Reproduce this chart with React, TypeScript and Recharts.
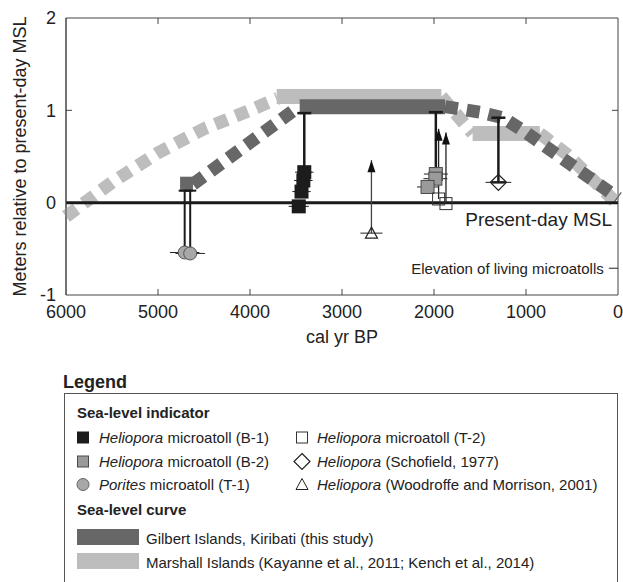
import { ComposedChart, Line, Scatter, XAxis, YAxis, ReferenceLine, ErrorBar } from 'recharts'

// axis ticks
const yearTicks = [0, 1000, 2000, 3000, 4000, 5000, 6000]
const levelTicks = [-1, 0, 1, 2]

// Marshall Islands curve (Kayanne et al., 2011; Kench et al., 2014)
const marshallRise = [
  { x: 6000, y: -0.15 },
  { x: 5500, y: 0.22 },
  { x: 5000, y: 0.54 },
  { x: 4500, y: 0.8 },
  { x: 4000, y: 1.0 },
  { x: 3700, y: 1.13 },
]
const marshallHigh = [
  { x: 3710, y: 1.15 },
  { x: 1920, y: 1.15 },
]
const marshallFall1 = [
  { x: 1920, y: 1.15 },
  { x: 1580, y: 0.75 },
]
const marshallMid = [
  { x: 1580, y: 0.75 },
  { x: 850, y: 0.75 },
]
const marshallFall2 = [
  { x: 850, y: 0.75 },
  { x: 550, y: 0.52 },
  { x: 0, y: -0.02 },
]

// Gilbert Islands curve (this study)
const gilbertStart = [
  { x: 4760, y: 0.2 },
  { x: 4620, y: 0.2 },
]
const gilbertRise = [
  { x: 4620, y: 0.2 },
  { x: 3470, y: 1.04 },
]
const gilbertHigh = [
  { x: 3460, y: 1.04 },
  { x: 1880, y: 1.04 },
]
const gilbertFall = [
  { x: 1880, y: 1.04 },
  { x: 1500, y: 0.98 },
  { x: 1250, y: 0.92 },
  { x: 1000, y: 0.76 },
  { x: 550, y: 0.44 },
  { x: 0, y: 0.05 },
]

// sea-level indicators
const heliB1 = [
  { x: 3410, y: 0.33, xErr: 100, yErr: [0, 0.64] },
  { x: 3420, y: 0.24, xErr: 100 },
  { x: 3440, y: 0.12, xErr: 100 },
  { x: 3470, y: -0.04, xErr: 110 },
]
const heliB2 = [
  { x: 1980, y: 0.31, xErr: 130, yErr: [0, 0.67] },
  { x: 1985, y: 0.26, xErr: 130 },
  { x: 2070, y: 0.17, xErr: 115 },
]
const poritesT1 = [
  { x: 4710, y: -0.54, xErr: 160, yErr: [0, 0.67] },
  { x: 4650, y: -0.55, xErr: 160, yErr: [0, 0.68] },
]
const heliT2 = [
  { x: 1950, y: 0.04, yErr: [0, 0.76] },
  { x: 1870, y: -0.01, yErr: [0, 0.77] },
]
const schofield = [{ x: 1300, y: 0.22, xErr: 140, yErr: [0, 0.7] }]
const woodroffe = [{ x: 2680, y: -0.33, xErr: 120, yErr: [0, 0.79] }]
const arrowTips = [...heliT2, ...woodroffe].map((d) => ({ x: d.x, y: d.y + d.yErr[1] }))

const livingMicroatolls = -0.71

const DARK = '#676767'
const LIGHT = '#bdbdbd'
const AXIS = '#444'
const FONT = '"Liberation Sans", Arial, sans-serif'
const X_MIN = 0
const X_MAX = 6000
const Y_MIN = -1
const Y_MAX = 2
// inward tick length (about 6px) in axis units
const TICK_X = 65
const TICK_Y = 0.065

// plot frame and inward ticks, built from the axis bounds and tick lists
const frame = [
  { x: X_MAX, y: Y_MIN },
  { x: X_MAX, y: Y_MAX },
  { x: X_MIN, y: Y_MAX },
  { x: X_MIN, y: Y_MIN },
]
const innerYears = yearTicks.filter((t) => t > X_MIN && t < X_MAX)
const innerLevels = levelTicks.filter((t) => t > Y_MIN && t < Y_MAX)
const tickSegments = [
  ...innerYears.map((t) => [
    { x: t, y: Y_MIN },
    { x: t, y: Y_MIN + TICK_Y },
  ]),
  ...innerYears.map((t) => [
    { x: t, y: Y_MAX },
    { x: t, y: Y_MAX - TICK_Y },
  ]),
  ...innerLevels.map((t) => [
    { x: X_MAX, y: t },
    { x: X_MAX - TICK_X, y: t },
  ]),
  ...innerLevels.map((t) => [
    { x: X_MIN, y: t },
    { x: X_MIN + TICK_X, y: t },
  ]),
]

const BlackSquare = (p: any) => <rect x={p.cx - 7} y={p.cy - 7} width={14} height={14} fill="#1c1c1c" />
const GraySquare = (p: any) => (
  <rect x={p.cx - 6.5} y={p.cy - 6.5} width={13} height={13} fill="#9a9a9a" stroke="#4a4a4a" strokeWidth={1} />
)
const OpenSquare = (p: any) => (
  <rect x={p.cx - 6} y={p.cy - 6} width={12} height={12} fill="none" stroke="#333" strokeWidth={1} />
)
const GrayCircle = (p: any) => <circle cx={p.cx} cy={p.cy} r={6.5} fill="#a8a8a8" stroke="#555" strokeWidth={1} />
const Diamond = (p: any) => (
  <polygon
    points={`${p.cx},${p.cy - 8} ${p.cx + 8},${p.cy} ${p.cx},${p.cy + 8} ${p.cx - 8},${p.cy}`}
    fill="none"
    stroke="#222"
    strokeWidth={1.3}
  />
)
const Triangle = (p: any) => (
  <polygon
    points={`${p.cx},${p.cy - 6} ${p.cx + 6},${p.cy + 5} ${p.cx - 6},${p.cy + 5}`}
    fill="none"
    stroke="#222"
    strokeWidth={1.2}
  />
)
const ArrowHead = (p: any) => (
  <polygon points={`${p.cx},${p.cy} ${p.cx + 4},${p.cy + 12} ${p.cx - 4},${p.cy + 12}`} fill="#111" />
)

const MslLabel = (props: any) => {
  const vb = props.viewBox
  return (
    <text x={vb.x + vb.width - 6} y={vb.y + 23} textAnchor="end" fontSize={19} fill="#222" fontFamily={FONT}>
      Present-day MSL
    </text>
  )
}

const YLabel = (props: any) => {
  const vb = props.viewBox
  const x = vb.x + 20
  const y = 156.5
  return (
    <text x={x} y={y} transform={`rotate(-90, ${x}, ${y})`} textAnchor="middle" fontSize={18} fill="#222" fontFamily={FONT}>
      Meters relative to present-day MSL
    </text>
  )
}

const indicatorItems = [
  { sym: 'b1', italic: 'Heliopora', rest: ' microatoll (B-1)' },
  { sym: 'b2', italic: 'Heliopora', rest: ' microatoll (B-2)' },
  { sym: 't1', italic: 'Porites', rest: ' microatoll (T-1)' },
  { sym: 't2', italic: 'Heliopora', rest: ' microatoll (T-2)' },
  { sym: 'sch', italic: 'Heliopora', rest: ' (Schofield, 1977)' },
  { sym: 'wm', italic: 'Heliopora', rest: ' (Woodroffe and Morrison, 2001)' },
]
const curveItems = [
  { color: DARK, label: 'Gilbert Islands, Kiribati (this study)' },
  { color: LIGHT, label: 'Marshall Islands (Kayanne et al., 2011; Kench et al., 2014)' },
]

function LegendIcon({ sym, cx, cy }: { sym: string; cx: number; cy: number }) {
  if (sym === 'b1') return <rect x={cx - 6} y={cy - 6} width={12} height={12} fill="#1c1c1c" />
  if (sym === 'b2') return <rect x={cx - 5.5} y={cy - 5.5} width={11} height={11} fill="#9a9a9a" stroke="#4a4a4a" />
  if (sym === 't1') return <circle cx={cx} cy={cy} r={6} fill="#a8a8a8" stroke="#666" />
  if (sym === 't2') return <rect x={cx - 5.5} y={cy - 5.5} width={11} height={11} fill="none" stroke="#333" />
  if (sym === 'sch')
    return (
      <polygon points={`${cx},${cy - 8} ${cx + 8},${cy} ${cx},${cy + 8} ${cx - 8},${cy}`} fill="none" stroke="#222" strokeWidth={1.2} />
    )
  return <polygon points={`${cx},${cy - 6} ${cx + 6},${cy + 5} ${cx - 6},${cy + 5}`} fill="none" stroke="#222" />
}

function ChartLegend() {
  const rows = [443, 467, 490]
  return (
    <svg width={623} height={222} style={{ position: 'absolute', left: 0, top: 360 }} fontFamily={FONT}>
      <text x={63} y={28} fontSize={18} fontWeight="bold" fill="#222">
        Legend
      </text>
      <rect x={64.5} y={33.5} width={553} height={200} fill="none" stroke="#555" strokeWidth={1} />
      <text x={77} y={58} fontSize={15} fontWeight="bold" fill="#222">
        Sea-level indicator
      </text>
      {indicatorItems.map((it, i) => {
        const col = i < 3 ? 0 : 1
        const base = rows[i % 3] - 360
        const iconX = col === 0 ? 83 : 302
        const textX = col === 0 ? 99 : 317
        return (
          <g key={i}>
            <LegendIcon sym={it.sym} cx={iconX} cy={base - 5.5} />
            <text x={textX} y={base} fontSize={15} fill="#222">
              <tspan fontStyle="italic">{it.italic}</tspan>
              {it.rest}
            </text>
          </g>
        )
      })}
      <text x={77} y={155} fontSize={15} fontWeight="bold" fill="#222">
        Sea-level curve
      </text>
      {curveItems.map((it, i) => (
        <g key={i}>
          <rect x={77} y={169 + i * 24} width={62} height={16} fill={it.color} />
          <text x={146} y={184 + i * 24} fontSize={15} fill="#222">
            {it.label}
          </text>
        </g>
      ))}
    </svg>
  )
}

export default function App() {
  const dashed = { dot: false, isAnimationActive: false, strokeWidth: 13, strokeDasharray: '13 9', type: 'linear' as const }
  const solid = { dot: false, isAnimationActive: false, strokeWidth: 15, type: 'linear' as const }
  return (
    <div style={{ position: 'absolute', left: 0, top: 0, width: 623, height: 582, background: '#fff', fontFamily: FONT }}>
      <ComposedChart width={623} height={360} margin={{ top: 18, right: 5, left: 6, bottom: 15 }} style={{ fontFamily: FONT }}>
        <XAxis
          dataKey="x"
          type="number"
          domain={[X_MIN, X_MAX]}
          ticks={yearTicks}
          reversed
          height={50}
          tickLine={false}
          tickMargin={4}
          stroke={AXIS}
          tick={{ fontSize: 18, fill: '#222' }}
          interval={0}
          label={{ value: 'cal yr BP', position: 'insideBottom', offset: 2, fontSize: 18, fill: '#222' }}
        />
        <YAxis
          type="number"
          domain={[Y_MIN, Y_MAX]}
          ticks={levelTicks}
          width={60}
          tickLine={false}
          tickMargin={4}
          stroke={AXIS}
          tick={{ fontSize: 18, fill: '#222' }}
          interval={0}
          label={(props: any) => <YLabel {...props} />}
        />

        <Line data={frame} dataKey="y" stroke={AXIS} strokeWidth={1} dot={false} isAnimationActive={false} />
        {tickSegments.map((seg, i) => (
          <Line key={`tick${i}`} data={seg} dataKey="y" stroke={AXIS} strokeWidth={1} dot={false} isAnimationActive={false} />
        ))}

        <Line data={marshallRise} dataKey="y" stroke={LIGHT} {...dashed} />
        <Line data={marshallHigh} dataKey="y" stroke={LIGHT} {...solid} />
        <Line data={marshallFall1} dataKey="y" stroke={LIGHT} {...dashed} />
        <Line data={marshallMid} dataKey="y" stroke={LIGHT} {...solid} />
        <Line data={marshallFall2} dataKey="y" stroke={LIGHT} {...dashed} />

        <Line data={gilbertStart} dataKey="y" stroke={DARK} {...solid} />
        <Line data={gilbertRise} dataKey="y" stroke={DARK} {...dashed} />
        <Line data={gilbertHigh} dataKey="y" stroke={DARK} {...solid} />
        <Line data={gilbertFall} dataKey="y" stroke={DARK} {...dashed} />

        <ReferenceLine y={0} stroke="#1a1a1a" strokeWidth={3} label={(props: any) => <MslLabel {...props} />} />
        <ReferenceLine
          segment={[
            { x: 100, y: livingMicroatolls },
            { x: 0, y: livingMicroatolls },
          ]}
          stroke="#222"
          strokeWidth={1}
          ifOverflow="visible"
          label={{ value: 'Elevation of living microatolls', position: 'left', offset: 5, fontSize: 15, fill: '#222' }}
        />

        <Scatter data={poritesT1} dataKey="y" shape={GrayCircle} isAnimationActive={false}>
          <ErrorBar dataKey="yErr" direction="y" width={6} stroke="#1a1a1a" strokeWidth={2} />
          <ErrorBar dataKey="xErr" direction="x" width={0} stroke="#222" strokeWidth={1} />
        </Scatter>
        <Scatter data={heliB1} dataKey="y" shape={BlackSquare} isAnimationActive={false}>
          <ErrorBar dataKey="yErr" direction="y" width={7} stroke="#1a1a1a" strokeWidth={2.5} />
          <ErrorBar dataKey="xErr" direction="x" width={0} stroke="#222" strokeWidth={1} />
        </Scatter>
        <Scatter data={heliB2} dataKey="y" shape={GraySquare} isAnimationActive={false}>
          <ErrorBar dataKey="yErr" direction="y" width={7} stroke="#1a1a1a" strokeWidth={2.5} />
          <ErrorBar dataKey="xErr" direction="x" width={0} stroke="#222" strokeWidth={1} />
        </Scatter>
        <Scatter data={heliT2} dataKey="y" shape={OpenSquare} isAnimationActive={false}>
          <ErrorBar dataKey="yErr" direction="y" width={0} stroke="#222" strokeWidth={1.3} />
        </Scatter>
        <Scatter data={schofield} dataKey="y" shape={Diamond} isAnimationActive={false}>
          <ErrorBar dataKey="yErr" direction="y" width={7} stroke="#1a1a1a" strokeWidth={2.5} />
          <ErrorBar dataKey="xErr" direction="x" width={0} stroke="#222" strokeWidth={1} />
        </Scatter>
        <Scatter data={woodroffe} dataKey="y" shape={Triangle} isAnimationActive={false}>
          <ErrorBar dataKey="yErr" direction="y" width={0} stroke="#444" strokeWidth={1.3} />
          <ErrorBar dataKey="xErr" direction="x" width={0} stroke="#222" strokeWidth={1} />
        </Scatter>
        <Scatter data={arrowTips} dataKey="y" shape={ArrowHead} isAnimationActive={false} />
      </ComposedChart>
      <ChartLegend />
    </div>
  )
}
